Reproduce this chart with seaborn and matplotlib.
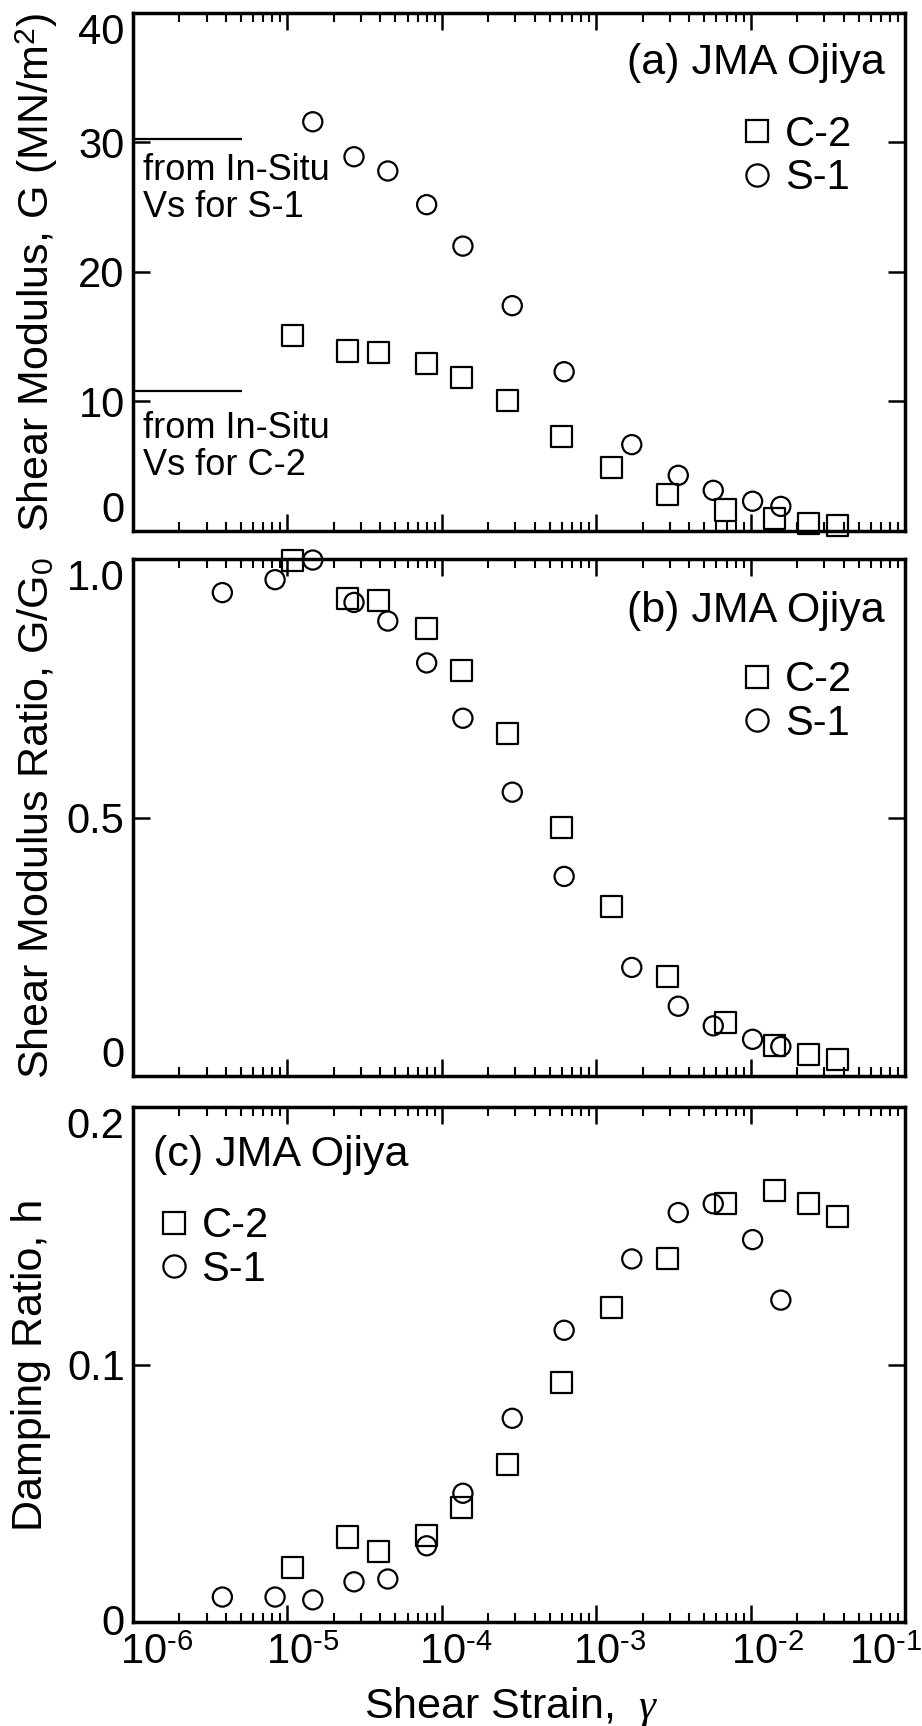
import numpy as np
import pandas as pd
import matplotlib
matplotlib.use("Agg")
import matplotlib.pyplot as plt
import seaborn as sns
from matplotlib.lines import Line2D
from matplotlib.ticker import LogLocator, NullFormatter, FixedLocator
from matplotlib.transforms import ScaledTranslation

# ---------------- data ----------------
samples = ["C-2", "S-1"]

strain_c2 = [1.08e-5, 2.44e-5, 3.9e-5, 7.98e-5, 1.35e-4, 2.65e-4, 5.97e-4,
             1.26e-3, 2.88e-3, 6.83e-3, 1.42e-2, 2.37e-2, 3.66e-2]
G_c2 = [15.1, 13.9, 13.8, 12.96, 11.85, 10.06, 7.3, 4.93, 2.81, 1.62, 0.93, 0.6, 0.46]
ratio_c2 = [0.997, 0.924, 0.919, 0.865, 0.785, 0.663, 0.481, 0.327, 0.192, 0.103,
            0.059, 0.042, 0.032]
damp_c2 = [0.021, 0.033, 0.0275, 0.0337, 0.0446, 0.0613, 0.0931, 0.1221, 0.1412,
           0.1624, 0.1674, 0.1624, 0.1573]

strain_s1 = [3.79e-6, 8.32e-6, 1.46e-5, 2.7e-5, 4.47e-5, 7.98e-5, 1.37e-4, 2.86e-4,
             6.2e-4, 1.7e-3, 3.4e-3, 5.73e-3, 1.03e-2, 1.57e-2]
G_s1 = [np.nan, np.nan, 31.6, 28.9, 27.8, 25.2, 22.0, 17.4, 12.3, 6.67, 4.3, 3.14, 2.3, 1.9]
ratio_s1 = [0.935, 0.960, 0.998, 0.916, 0.880, 0.799, 0.692, 0.549, 0.386, 0.210,
            0.135, 0.097, 0.071, 0.057]
damp_s1 = [0.0097, 0.0097, 0.0086, 0.0156, 0.0167, 0.0296, 0.050, 0.0791, 0.1133,
           0.141, 0.159, 0.1624, 0.1485, 0.125]

insitu_G = [30.3, 10.83]
insitu_strain = [1e-6, 5.1e-6]
insitu_text_G = [29.2, 9.27]
insitu_text_strain = 1.16e-6
insitu_labels = ["from In-Situ\nVs for S-1", "from In-Situ\nVs for C-2"]

x_ticks = [1e-6, 1e-5, 1e-4, 1e-3, 1e-2, 1e-1]
x_ticklabels = ["$10^{\u20106}$", "$10^{\u20105}$", "$10^{\u20104}$", "$10^{\u20103}$",
                "$10^{\u20102}$", "$10^{\u20101}$"]
yticks_a = [0, 10, 20, 30, 40]
yticklabels_a = ["0", "10", "20", "30", "40"]
yticks_b = [0, 0.5, 1.0]
yticklabels_b = ["0", "0.5", "1.0"]
yticks_c = [0, 0.1, 0.2]
yticklabels_c = ["0", "0.1", "0.2"]

titles = ["(a) JMA Ojiya", "(b) JMA Ojiya", "(c) JMA Ojiya"]
ylabels = [r"Shear Modulus, G (MN/m$^2$)", r"Shear Modulus Ratio, G/G$_0$",
           "Damping Ratio, h"]
xlabel = r"Shear Strain,  $\gamma$"

# ---------------- style ----------------
sns.set_theme(style="ticks")
plt.rcParams["font.family"] = ["Liberation Sans", "DejaVu Sans"]
plt.rcParams["mathtext.fontset"] = "custom"
plt.rcParams["mathtext.rm"] = "Liberation Sans"
plt.rcParams["mathtext.it"] = "Liberation Serif:italic"
plt.rcParams["mathtext.bf"] = "Liberation Sans:bold"
plt.rcParams["axes.linewidth"] = 2.5
plt.rcParams["axes.edgecolor"] = "black"
plt.rcParams["text.color"] = "black"
plt.rcParams["axes.labelcolor"] = "black"
plt.rcParams["xtick.color"] = "black"
plt.rcParams["ytick.color"] = "black"

FW, FH = 922, 1726
fig = plt.figure(figsize=(FW / 100, FH / 100), dpi=100)
L, R = 133, 905


def rect(top, bottom):
    return [L / FW, 1 - bottom / FH, (R - L) / FW, (bottom - top) / FH]


ax_a = fig.add_axes(rect(13, 531))
ax_b = fig.add_axes(rect(559, 1076))
ax_c = fig.add_axes(rect(1107, 1622))
axes = [ax_a, ax_b, ax_c]


def make_df(yc, ys):
    df = pd.DataFrame({
        "strain": list(strain_c2) + list(strain_s1),
        "value": list(yc) + list(ys),
        "sample": ["C-2"] * len(strain_c2) + ["S-1"] * len(strain_s1),
    })
    return df.dropna()


dfs = [make_df(G_c2, G_s1), make_df(ratio_c2, ratio_s1), make_df(damp_c2, damp_s1)]
ylims = [(0, 40), (0, 1.0), (0, 0.2)]
yticks = [yticks_a, yticks_b, yticks_c]
yticklabels = [yticklabels_a, yticklabels_b, yticklabels_c]
legend_anchors = [(0.781, 0.723), (0.781, 0.7234), (0.0255, 0.726)]

for i, (ax, df) in enumerate(zip(axes, dfs)):
    ax.set_xscale("log")
    sns.scatterplot(data=df, x="strain", y="value", style="sample", size="sample",
                    markers={"C-2": "s", "S-1": "o"}, sizes={"C-2": 230, "S-1": 190},
                    style_order=samples, size_order=samples, color="black",
                    linewidth=1.6, legend=False, clip_on=False, zorder=3, ax=ax)
    coll = ax.collections[-1]
    coll.set_facecolor("none")
    coll.set_edgecolor("black")
    coll.set_linewidth(1.6)

    ax.set_xlim(1e-6, 1e-1)
    ax.set_ylim(*ylims[i])
    ax.xaxis.set_major_locator(FixedLocator(x_ticks))
    ax.xaxis.set_minor_locator(LogLocator(base=10, subs=np.arange(2, 10), numticks=20))
    ax.xaxis.set_minor_formatter(NullFormatter())
    ax.set_yticks(yticks[i])
    ax.set_yticklabels(yticklabels[i])
    ax.set_xlabel("")
    ax.tick_params(axis="both", which="major", direction="in", length=12, width=1.8,
                   top=True, right=True, labelsize=30, pad=6)
    ax.tick_params(axis="x", which="minor", direction="in", length=6.5, width=1.5,
                   top=True, bottom=True)
    ax.tick_params(axis="y", which="minor", left=False, right=False)
    for sp in ax.spines.values():
        sp.set_linewidth(2.5)
        sp.set_zorder(2)

    ax.set_ylabel(ylabels[i], fontsize=31)
    ax.yaxis.label.set_va("center")

    # legend
    handles = [
        Line2D([], [], marker="s", ls="none", mfc="none", mec="black", mew=1.6, ms=16),
        Line2D([], [], marker="o", ls="none", mfc="none", mec="black", mew=1.6, ms=16),
    ]
    ax.legend(handles, samples, loc="center left", bbox_to_anchor=legend_anchors[i],
              frameon=False, handlelength=1.0, handletextpad=0.17, borderpad=0,
              borderaxespad=0, labelspacing=0.09, fontsize=30)

    if i < 2:
        ax.text(0.974, 0.903 if i == 0 else 0.899, titles[i], transform=ax.transAxes,
                ha="right", va="center", fontsize=31)
        ax.tick_params(axis="x", which="both", labelbottom=False)
    else:
        ax.text(0.026, 0.907, titles[i], transform=ax.transAxes,
                ha="left", va="center", fontsize=31)

ax_a.yaxis.set_label_coords(-0.1244, 0.5)
ax_b.yaxis.set_label_coords(-0.1244, 0.5)
ax_c.yaxis.set_label_coords(-0.132, 0.5)

# in-situ reference lines
for g, t_g, lab in zip(insitu_G, insitu_text_G, insitu_labels):
    ax_a.plot(insitu_strain, [g, g], color="black", lw=1.6, solid_capstyle="butt",
              clip_on=False, zorder=2)
    ax_a.text(insitu_text_strain, t_g, lab, ha="left", va="top", fontsize=26,
              linespacing=1.07)

# x tick labels bottom panel
ax_c.set_xticklabels(x_ticklabels)
ax_c.tick_params(axis="x", which="major", pad=8)
ax_c.set_xlabel(xlabel, fontsize=31)
ax_c.xaxis.set_label_coords(0.5 - 8 / 772, -0.122)
ax_c.xaxis.label.set_va("top")

# y tick label alignment (edge labels kept inside the frame)
for ax in [ax_a, ax_b]:
    ticks = ax.yaxis.get_major_ticks()
    ticks[0].label1.set_va("bottom")
    ticks[-1].label1.set_va("top")
ticks = ax_c.yaxis.get_major_ticks()
ticks[-1].label1.set_va("top")
ticks[0].label1.set_transform(ticks[0].label1.get_transform()
                              + ScaledTranslation(0, 3 / 100, fig.dpi_scale_trans))

# shift x labels so that "10" sits on / near the tick as in the reference
x_label_shift_px = [24, 15, 14, 13, 17, -19]
for tk, dx in zip(ax_c.xaxis.get_major_ticks(), x_label_shift_px):
    tk.label1.set_transform(tk.label1.get_transform()
                            + ScaledTranslation(dx / 100, 0, fig.dpi_scale_trans))

fig.savefig("out.png", dpi=100)
